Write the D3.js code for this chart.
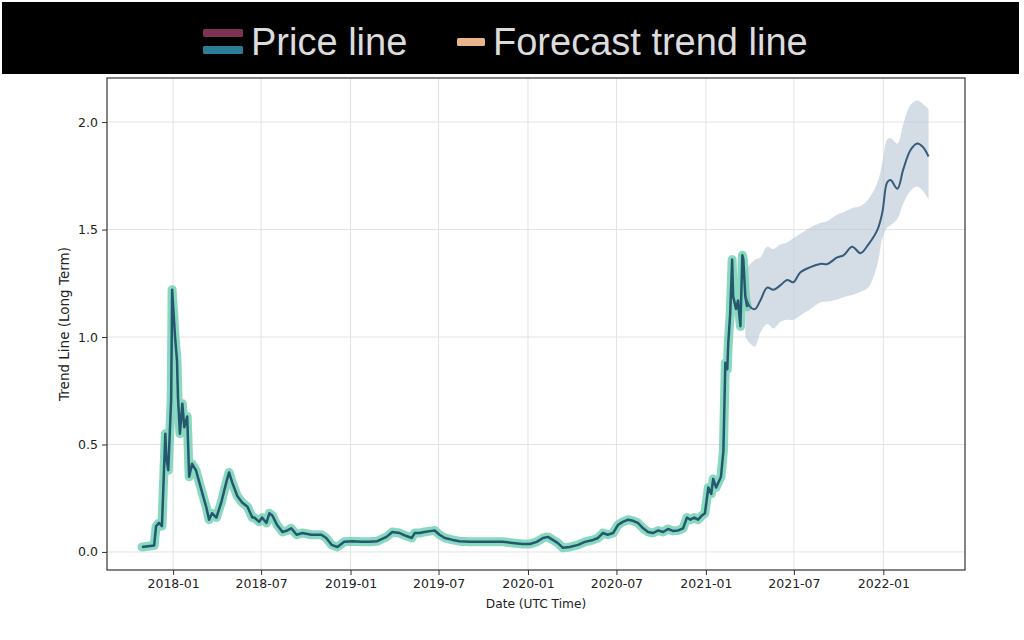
<!DOCTYPE html>
<html><head><meta charset="utf-8">
<script src="https://cdn.jsdelivr.net/npm/d3@7"></script>
<style>body{margin:0;background:#fff}svg{display:block}</style>
</head><body>
<script>
const priceDates = ["2017-10-29","2017-11-23","2017-11-27","2017-12-03","2017-12-09","2017-12-16","2017-12-18","2017-12-22","2017-12-28","2017-12-30","2018-01-05","2018-01-09","2018-01-11","2018-01-15","2018-01-20","2018-01-24","2018-01-30","2018-02-03","2018-02-09","2018-02-17","2018-02-28","2018-03-10","2018-03-16","2018-03-22","2018-03-31","2018-04-10","2018-04-20","2018-04-26","2018-05-03","2018-05-13","2018-05-23","2018-06-03","2018-06-13","2018-06-17","2018-06-27","2018-07-03","2018-07-12","2018-07-18","2018-07-24","2018-08-03","2018-08-14","2018-08-24","2018-09-01","2018-09-12","2018-09-24","2018-10-12","2018-11-02","2018-11-12","2018-11-23","2018-12-05","2018-12-19","2019-01-05","2019-01-23","2019-02-09","2019-02-25","2019-03-16","2019-03-28","2019-04-12","2019-04-26","2019-05-07","2019-05-13","2019-05-23","2019-06-02","2019-06-17","2019-06-23","2019-07-03","2019-07-14","2019-07-30","2019-08-13","2019-09-03","2019-09-24","2019-10-20","2019-11-10","2019-12-01","2019-12-21","2020-01-05","2020-01-19","2020-02-01","2020-02-11","2020-02-21","2020-03-02","2020-03-13","2020-03-27","2020-04-13","2020-04-27","2020-05-14","2020-05-24","2020-06-03","2020-06-13","2020-06-24","2020-07-04","2020-07-14","2020-07-25","2020-08-04","2020-08-14","2020-08-25","2020-09-04","2020-09-14","2020-09-25","2020-10-05","2020-10-15","2020-10-25","2020-11-05","2020-11-15","2020-11-23","2020-11-30","2020-12-08","2020-12-16","2020-12-24","2020-12-30","2021-01-06","2021-01-12","2021-01-16","2021-01-22","2021-01-26","2021-02-01","2021-02-06","2021-02-10","2021-02-14","2021-02-16","2021-02-20","2021-02-24","2021-02-26","2021-03-04","2021-03-08","2021-03-13","2021-03-17","2021-03-19","2021-03-23","2021-03-27"];
const priceValues = [0.023,0.03,0.12,0.135,0.12,0.55,0.44,0.38,0.71,1.22,1.0,0.89,0.72,0.55,0.69,0.58,0.63,0.35,0.41,0.38,0.29,0.21,0.15,0.18,0.16,0.23,0.32,0.37,0.32,0.26,0.23,0.21,0.16,0.16,0.14,0.16,0.135,0.18,0.17,0.125,0.093,0.10,0.11,0.08,0.088,0.08,0.08,0.065,0.033,0.023,0.047,0.05,0.047,0.047,0.05,0.07,0.093,0.088,0.074,0.065,0.088,0.088,0.093,0.098,0.10,0.08,0.065,0.056,0.05,0.047,0.047,0.047,0.047,0.042,0.037,0.037,0.047,0.065,0.07,0.056,0.042,0.019,0.023,0.033,0.047,0.056,0.065,0.088,0.08,0.088,0.125,0.14,0.15,0.145,0.135,0.11,0.093,0.088,0.10,0.093,0.107,0.098,0.10,0.11,0.16,0.15,0.16,0.15,0.17,0.18,0.30,0.27,0.34,0.30,0.32,0.35,0.47,0.88,0.85,0.97,1.11,1.36,1.19,1.13,1.17,1.05,1.38,1.36,1.19,1.14];

const forecastDates = ["2021-03-23","2021-04-02","2021-04-12","2021-04-23","2021-05-07","2021-05-20","2021-06-03","2021-06-17","2021-06-30","2021-07-14","2021-08-04","2021-08-24","2021-09-08","2021-09-28","2021-10-11","2021-10-29","2021-11-15","2021-12-01","2021-12-20","2021-12-30","2022-01-09","2022-01-16","2022-01-30","2022-02-11","2022-02-26","2022-03-12","2022-03-23","2022-04-04"];
const forecastValues = [1.19,1.14,1.13,1.17,1.23,1.22,1.24,1.265,1.255,1.30,1.325,1.34,1.34,1.37,1.38,1.42,1.39,1.43,1.50,1.58,1.72,1.73,1.69,1.78,1.87,1.90,1.885,1.84];
const forecastUpper = [1.31,1.34,1.36,1.37,1.42,1.41,1.43,1.44,1.46,1.48,1.51,1.53,1.54,1.57,1.58,1.60,1.61,1.64,1.72,1.81,1.92,1.925,1.90,1.99,2.08,2.10,2.085,2.06];
const forecastLower = [1.00,0.97,0.955,1.02,1.06,1.04,1.07,1.08,1.08,1.10,1.13,1.16,1.165,1.175,1.185,1.195,1.21,1.23,1.34,1.46,1.51,1.52,1.55,1.62,1.68,1.70,1.68,1.64];

const yTicks = [0.0,0.5,1.0,1.5,2.0];
const xTickDates = ["2018-01-01","2018-07-01","2019-01-01","2019-07-01","2020-01-01","2020-07-01","2021-01-01","2021-07-01","2022-01-01"];
const legendLabels = ["Price line","Forecast trend line"];

const W = 1024, H = 640;
const parse = d3.utcParse("%Y-%m-%d");
const svg = d3.select("body").append("svg").attr("width", W).attr("height", H);

// legend band
svg.append("rect").attr("x",2).attr("y",2).attr("width",1017).attr("height",72).attr("fill","#000");
const lg = svg.append("g");
lg.append("rect").attr("x",203).attr("y",29).attr("width",40).attr("height",8).attr("rx",1.5).attr("fill","#7c3352");
lg.append("rect").attr("x",203).attr("y",46).attr("width",40).attr("height",8).attr("rx",1.5).attr("fill","#2a7f96");
lg.append("text").attr("x",251).attr("y",55).attr("font-family","Liberation Sans, Arial, sans-serif")
  .attr("font-size",38).attr("fill","#dcdcdc").text(legendLabels[0]);
lg.append("rect").attr("x",457).attr("y",38).attr("width",28).attr("height",8).attr("rx",1.5).attr("fill","#e8b48c");
lg.append("text").attr("x",493).attr("y",55).attr("font-family","Liberation Sans, Arial, sans-serif")
  .attr("font-size",38).attr("fill","#dcdcdc").text(legendLabels[1]);

// plot area
const L = 107, R = 965, T = 78, B = 570;
const x = d3.scaleUtc().domain([parse("2017-08-18"), parse("2022-06-18")]).range([L, R]);
const y = d3.scaleLinear().domain([-0.084, 2.205]).range([B, T]);

const grid = svg.append("g");
grid.selectAll(".gx").data(xTickDates).enter().append("line")
  .attr("x1", d=>x(parse(d))).attr("x2", d=>x(parse(d))).attr("y1",T).attr("y2",B)
  .attr("stroke","#e3e3e3").attr("stroke-width",1);
grid.selectAll(".gy").data(yTicks).enter().append("line")
  .attr("x1",L).attr("x2",R).attr("y1",d=>y(d)).attr("y2",d=>y(d))
  .attr("stroke","#e3e3e3").attr("stroke-width",1);

// forecast band
const band = forecastDates.map((d,i)=>({d:parse(d), lo:forecastLower[i], hi:forecastUpper[i]}));
svg.append("path").datum(band)
  .attr("d", d3.area().x(p=>x(p.d)).y0(p=>y(p.lo)).y1(p=>y(p.hi)).curve(d3.curveCatmullRom.alpha(0.5)))
  .attr("fill","#b7c7d5").attr("fill-opacity",0.6);

// price line
const price = priceDates.map((d,i)=>({d:parse(d), v:priceValues[i]}));
const pline = d3.line().x(p=>x(p.d)).y(p=>y(p.v));
svg.append("path").datum(price).attr("d", pline).attr("fill","none")
  .attr("stroke","#6ccfb0").attr("stroke-width",9).attr("stroke-linejoin","round").attr("stroke-linecap","round").attr("stroke-opacity",0.8);
svg.append("path").datum(price).attr("d", pline).attr("fill","none")
  .attr("stroke","#24586f").attr("stroke-width",2.5).attr("stroke-linejoin","round");

// forecast line
const fc = forecastDates.map((d,i)=>({d:parse(d), v:forecastValues[i]}));
svg.append("path").datum(fc)
  .attr("d", d3.line().x(p=>x(p.d)).y(p=>y(p.v)).curve(d3.curveCatmullRom.alpha(0.5)))
  .attr("fill","none").attr("stroke","#355c7a").attr("stroke-width",2);

// frame
svg.append("rect").attr("x",L).attr("y",T).attr("width",R-L).attr("height",B-T)
  .attr("fill","none").attr("stroke","#333").attr("stroke-width",1.2);

// axes
const xAxis = d3.axisBottom(x).tickValues(xTickDates.map(parse)).tickFormat(d3.utcFormat("%Y-%m")).tickSize(5).tickPadding(4);
const gx = svg.append("g").attr("transform",`translate(0,${B})`).call(xAxis);
const yAxis = d3.axisLeft(y).tickValues(yTicks).tickFormat(d3.format(".1f")).tickSize(5).tickPadding(4);
const gy = svg.append("g").attr("transform",`translate(${L},0)`).call(yAxis);
[gx,gy].forEach(g=>{
  g.select(".domain").remove();
  g.selectAll(".tick line").attr("stroke","#333");
  g.selectAll("text").attr("font-family","DejaVu Sans, sans-serif").attr("font-size",12.5).attr("fill","#222");
});

svg.append("text").attr("x",(L+R)/2).attr("y",608).attr("text-anchor","middle")
  .attr("font-family","DejaVu Sans, sans-serif").attr("font-size",12.2).attr("fill","#222").text("Date (UTC Time)");
svg.append("text").attr("transform",`translate(69,${(T+B)/2}) rotate(-90)`).attr("text-anchor","middle")
  .attr("font-family","DejaVu Sans, sans-serif").attr("font-size",13.5).attr("fill","#222").text("Trend Line (Long Term)");
</script>
</body></html>
